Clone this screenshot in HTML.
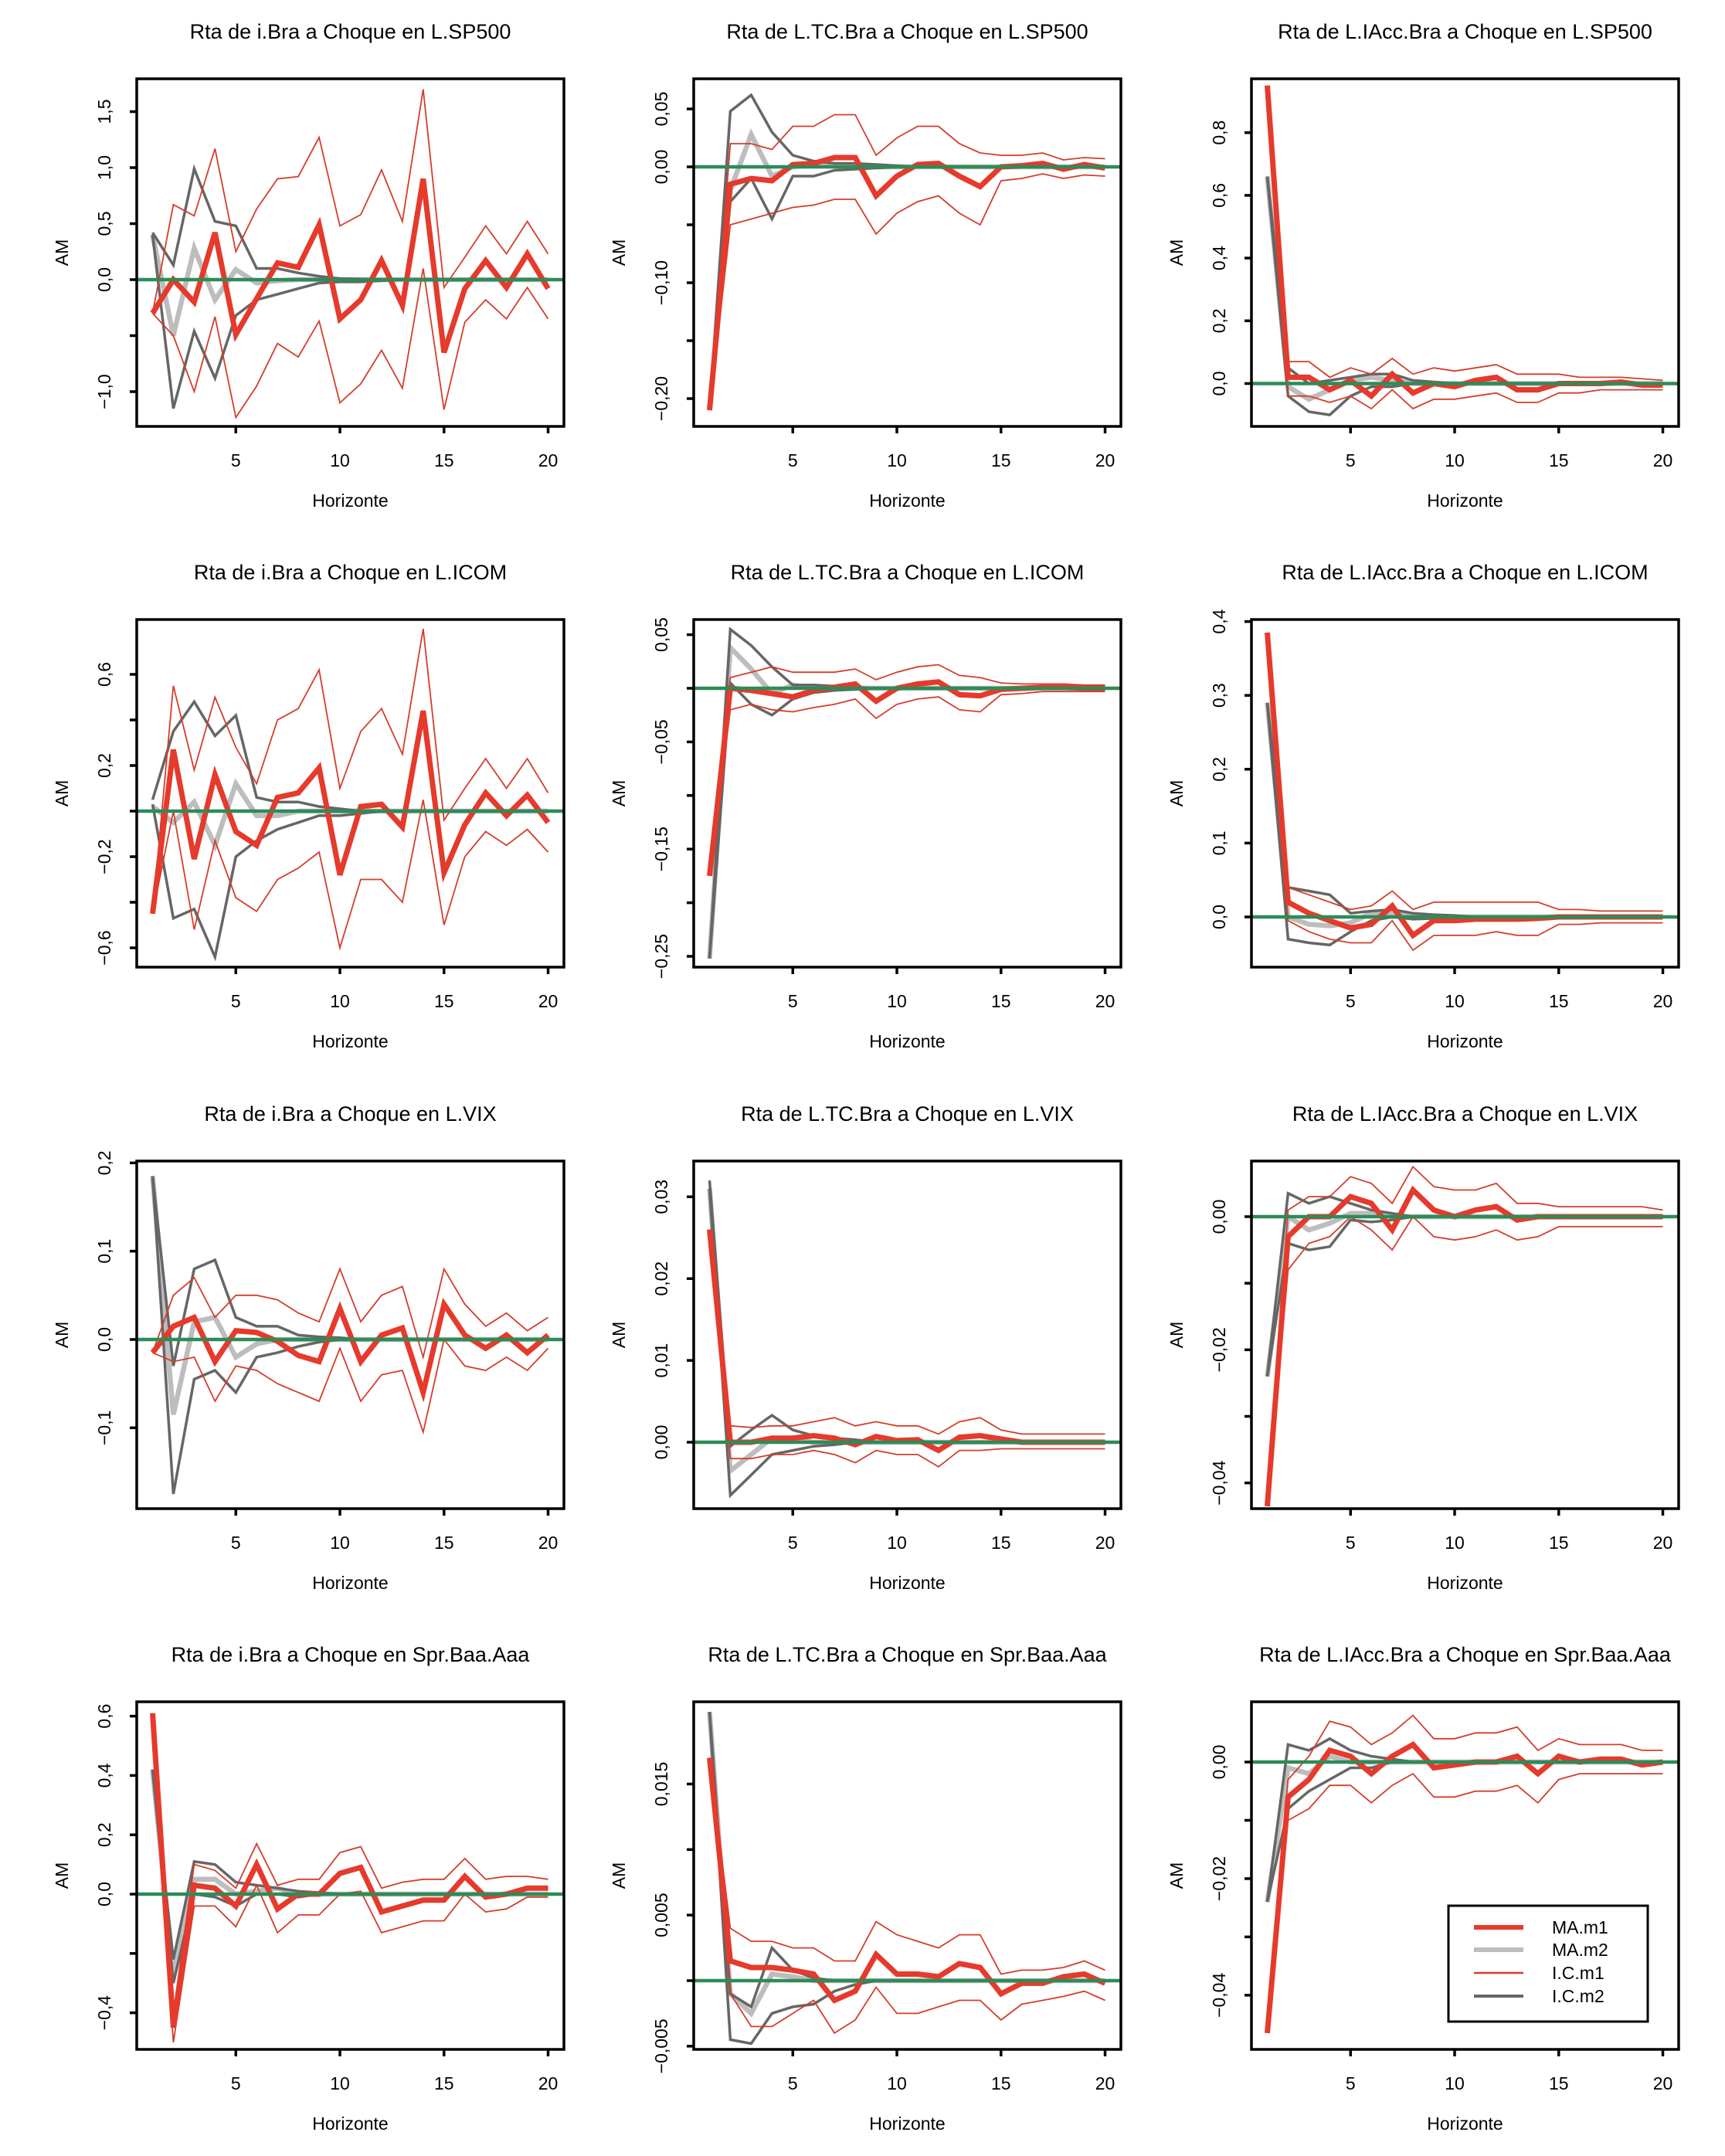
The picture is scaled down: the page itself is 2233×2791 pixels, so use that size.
<!DOCTYPE html>
<html><head><meta charset="utf-8">
<style>
html,body{margin:0;padding:0;background:#fff;}
svg{display:block;font-family:"Liberation Sans",Arial,sans-serif;}
</style></head>
<body>
<svg id="chart" width="2233" height="2791" viewBox="0 0 2233 2791" xmlns="http://www.w3.org/2000/svg">
<rect x="0" y="0" width="2233" height="2791" fill="#fff"/>
</svg>
<script>
const horizons = [1,2,3,4,5,6,7,8,9,10,11,12,13,14,15,16,17,18,19,20];
const xTicks = [5,10,15,20];
const titles = [
 "Rta de i.Bra a Choque en L.SP500","Rta de L.TC.Bra a Choque en L.SP500","Rta de L.IAcc.Bra a Choque en L.SP500",
 "Rta de i.Bra a Choque en L.ICOM","Rta de L.TC.Bra a Choque en L.ICOM","Rta de L.IAcc.Bra a Choque en L.ICOM",
 "Rta de i.Bra a Choque en L.VIX","Rta de L.TC.Bra a Choque en L.VIX","Rta de L.IAcc.Bra a Choque en L.VIX",
 "Rta de i.Bra a Choque en Spr.Baa.Aaa","Rta de L.TC.Bra a Choque en Spr.Baa.Aaa","Rta de L.IAcc.Bra a Choque en Spr.Baa.Aaa"];
const yTickVals = [
 [-1.0,-0.5,0,0.5,1.0,1.5],[-0.20,-0.15,-0.10,-0.05,0,0.05],[0,0.2,0.4,0.6,0.8],
 [-0.6,-0.4,-0.2,0,0.2,0.4,0.6],[-0.25,-0.20,-0.15,-0.10,-0.05,0,0.05],[0,0.1,0.2,0.3,0.4],
 [-0.1,0,0.1,0.2],[0,0.01,0.02,0.03],[-0.04,-0.03,-0.02,-0.01,0],
 [-0.4,-0.2,0,0.2,0.4,0.6],[-0.005,0,0.005,0.010,0.015],[-0.04,-0.03,-0.02,-0.01,0]];
const yTickLabels = [
 ["−1,0","","0,0","0,5","1,0","1,5"],["−0,20","","−0,10","","0,00","0,05"],["0,0","0,2","0,4","0,6","0,8"],
 ["−0,6","","−0,2","","0,2","","0,6"],["−0,25","","−0,15","","−0,05","","0,05"],["0,0","0,1","0,2","0,3","0,4"],
 ["−0,1","0,0","0,1","0,2"],["0,00","0,01","0,02","0,03"],["−0,04","","−0,02","","0,00"],
 ["−0,4","","0,0","0,2","0,4","0,6"],["−0,005","","0,005","","0,015"],["−0,04","","−0,02","","0,00"]];
// axis calibration (value 0 pixel row, pixels per unit) - scale parameters, not data
const yZero = [362,216,496.5, 1050,891,1187, 1734,1867,1575, 2452,2564,2281];
const yK = [145,1500,406, 295,1388,956, 1143,10590,8617, 384,16970,7546];

const m1 = [
 [-0.3,0,-0.2,0.42,-0.49,-0.17,0.15,0.11,0.49,-0.35,-0.18,0.17,-0.23,0.9,-0.65,-0.08,0.17,-0.07,0.23,-0.08],
 [-0.21,-0.015,-0.01,-0.012,0.002,0.003,0.008,0.008,-0.025,-0.008,0.002,0.003,-0.008,-0.017,0,0.001,0.003,-0.002,0.002,-0.001],
 [0.95,0.02,0.02,-0.02,0.01,-0.04,0.03,-0.03,0,-0.01,0.01,0.02,-0.02,-0.02,0,0,0,0.005,-0.005,-0.005],
 [-0.45,0.27,-0.21,0.16,-0.09,-0.15,0.06,0.08,0.19,-0.28,0.02,0.03,-0.07,0.44,-0.27,-0.06,0.08,-0.02,0.07,-0.05],
 [-0.175,0,-0.002,-0.005,-0.008,-0.002,0.001,0.004,-0.012,0,0.004,0.006,-0.006,-0.007,-0.001,0,0.001,0.001,0,0],
 [0.385,0.02,0.005,-0.005,-0.015,-0.01,0.015,-0.025,-0.005,-0.005,-0.003,-0.003,-0.003,-0.002,0,0,0,0,0,0],
 [-0.015,0.015,0.025,-0.025,0.01,0.008,-0.002,-0.018,-0.025,0.035,-0.025,0.005,0.013,-0.06,0.04,0.005,-0.01,0.005,-0.015,0.005],
 [0.026,0,0,0.0005,0.0005,0.0008,0.0005,-0.0003,0.0007,0.0002,0.0003,-0.001,0.0006,0.0008,0.0004,0,0,0,0,0],
 [-0.0435,-0.003,0,0,0.003,0.002,-0.002,0.004,0.001,0,0.001,0.0015,-0.0005,0,0,0,0,0,0,0],
 [0.61,-0.45,0.03,0.02,-0.04,0.1,-0.05,0,0,0.07,0.09,-0.06,-0.04,-0.02,-0.02,0.06,-0.01,0,0.02,0.02],
 [0.017,0.0015,0.001,0.001,0.0008,0.0005,-0.0015,-0.0008,0.002,0.0005,0.0005,0.0003,0.0013,0.001,-0.001,-0.0002,-0.0002,0.0003,0.0005,-0.0002],
 [-0.0465,-0.006,-0.003,0.002,0.001,-0.002,0.001,0.003,-0.001,-0.0005,0,0,0.001,-0.002,0.001,0,0.0005,0.0005,-0.0005,0]];
const hi1 = [
 [-0.3,0.67,0.57,1.17,0.25,0.63,0.9,0.92,1.27,0.48,0.58,0.98,0.52,1.7,-0.07,0.2,0.48,0.23,0.52,0.23],
 [-0.21,0.02,0.02,0.015,0.035,0.035,0.045,0.045,0.01,0.025,0.035,0.035,0.02,0.012,0.01,0.01,0.012,0.006,0.008,0.007],
 [0.95,0.07,0.07,0.02,0.05,0.03,0.08,0.03,0.05,0.04,0.05,0.06,0.03,0.03,0.03,0.02,0.02,0.02,0.015,0.01],
 [-0.45,0.55,0.18,0.5,0.28,0.12,0.4,0.45,0.62,0.1,0.35,0.45,0.25,0.8,-0.04,0.1,0.23,0.1,0.23,0.08],
 [-0.175,0.01,0.015,0.02,0.015,0.015,0.015,0.018,0.008,0.015,0.02,0.022,0.012,0.01,0.005,0.004,0.004,0.004,0.003,0.003],
 [0.385,0.04,0.03,0.02,0.01,0.015,0.035,0.01,0.02,0.02,0.02,0.02,0.02,0.02,0.01,0.01,0.008,0.008,0.008,0.008],
 [-0.015,0.05,0.07,0.025,0.05,0.05,0.045,0.03,0.02,0.08,0.02,0.05,0.06,-0.02,0.08,0.04,0.015,0.03,0.01,0.025],
 [0.026,0.002,0.0018,0.002,0.002,0.0025,0.003,0.002,0.0025,0.002,0.002,0.001,0.0025,0.003,0.0015,0.001,0.001,0.001,0.001,0.001],
 [-0.0435,0.001,0.003,0.003,0.006,0.005,0.002,0.0075,0.0045,0.004,0.004,0.005,0.002,0.002,0.0015,0.0015,0.0015,0.0015,0.0015,0.001],
 [0.61,-0.4,0.1,0.08,0.02,0.17,0.03,0.05,0.05,0.14,0.16,0.02,0.04,0.05,0.05,0.12,0.05,0.06,0.06,0.05],
 [0.017,0.004,0.003,0.003,0.0025,0.0025,0.0015,0.0015,0.0045,0.0035,0.003,0.0025,0.0035,0.0035,0.0005,0.0008,0.0008,0.001,0.0015,0.0008],
 [-0.0465,-0.003,0.001,0.007,0.006,0.003,0.005,0.008,0.004,0.004,0.005,0.005,0.006,0.002,0.004,0.003,0.003,0.003,0.002,0.002]];
const lo1 = [
 [-0.3,-0.5,-1.0,-0.33,-1.23,-0.95,-0.57,-0.69,-0.37,-1.1,-0.93,-0.63,-0.97,0.1,-1.16,-0.38,-0.18,-0.35,-0.07,-0.35],
 [-0.21,-0.05,-0.045,-0.04,-0.035,-0.033,-0.028,-0.028,-0.058,-0.04,-0.03,-0.025,-0.04,-0.05,-0.012,-0.01,-0.006,-0.01,-0.007,-0.008],
 [0.95,-0.04,-0.04,-0.06,-0.04,-0.08,-0.02,-0.08,-0.05,-0.05,-0.04,-0.03,-0.06,-0.06,-0.03,-0.03,-0.02,-0.02,-0.02,-0.02],
 [-0.45,0,-0.52,-0.13,-0.38,-0.44,-0.3,-0.25,-0.18,-0.6,-0.3,-0.3,-0.4,0.05,-0.5,-0.2,-0.09,-0.15,-0.08,-0.18],
 [-0.175,-0.02,-0.015,-0.02,-0.022,-0.018,-0.015,-0.01,-0.028,-0.015,-0.01,-0.008,-0.02,-0.022,-0.006,-0.005,-0.003,-0.003,-0.003,-0.003],
 [0.385,-0.005,-0.02,-0.03,-0.035,-0.035,-0.005,-0.045,-0.025,-0.025,-0.025,-0.02,-0.025,-0.025,-0.01,-0.01,-0.008,-0.008,-0.008,-0.008],
 [-0.015,-0.025,-0.02,-0.07,-0.03,-0.035,-0.05,-0.06,-0.07,-0.01,-0.07,-0.04,-0.035,-0.105,0,-0.03,-0.035,-0.02,-0.035,-0.01],
 [0.026,-0.002,-0.002,-0.0015,-0.0015,-0.001,-0.0015,-0.0025,-0.001,-0.0015,-0.0015,-0.003,-0.001,-0.001,-0.0008,-0.0008,-0.0008,-0.0008,-0.0008,-0.0008],
 [-0.0435,-0.008,-0.004,-0.003,0,-0.002,-0.005,0,-0.003,-0.0035,-0.003,-0.002,-0.0035,-0.003,-0.0015,-0.0015,-0.0015,-0.0015,-0.0015,-0.0015],
 [0.61,-0.5,-0.04,-0.04,-0.11,0.03,-0.13,-0.07,-0.07,0,0.01,-0.13,-0.11,-0.09,-0.09,0,-0.06,-0.05,-0.01,-0.01],
 [0.017,-0.001,-0.0035,-0.0035,-0.0025,-0.0015,-0.004,-0.003,-0.0005,-0.0025,-0.0025,-0.002,-0.0015,-0.0015,-0.003,-0.0018,-0.0015,-0.0012,-0.0008,-0.0015],
 [-0.0465,-0.01,-0.008,-0.004,-0.004,-0.007,-0.004,-0.002,-0.006,-0.006,-0.005,-0.005,-0.004,-0.007,-0.003,-0.002,-0.002,-0.002,-0.002,-0.002]];
const m2 = [
 [0.4,-0.5,0.28,-0.18,0.09,-0.03,-0.01,0,0,0,0,0,0,0,0,0,0,0,0,0],
 [-0.21,-0.02,0.028,-0.008,0,0.002,0.001,0,0,0,0,0,0,0,0,0,0,0,0,0],
 [0.66,-0.01,-0.05,-0.02,0.01,0.02,0.01,0,0,0,0,0,0,0,0,0,0,0,0,0],
 [0.02,-0.05,0.04,-0.15,0.12,-0.02,-0.02,0,0,0,0,0,0,0,0,0,0,0,0,0],
 [-0.252,0.038,0.018,-0.005,0.003,0,0,0,0,0,0,0,0,0,0,0,0,0,0,0],
 [0.29,0,-0.01,-0.012,-0.008,0.005,0.005,0,0,0,0,0,0,0,0,0,0,0,0,0],
 [0.185,-0.085,0.02,0.025,-0.02,-0.005,0,0,0,0,0,0,0,0,0,0,0,0,0,0],
 [0.031,-0.0035,-0.0015,0.0005,0.0003,0,0,0,0,0,0,0,0,0,0,0,0,0,0,0],
 [-0.024,0,-0.002,-0.001,0.0005,0.0005,0,0,0,0,0,0,0,0,0,0,0,0,0,0],
 [0.42,-0.28,0.05,0.05,0,0.01,0.02,0,0,0,0,0,0,0,0,0,0,0,0,0],
 [0.0205,-0.001,-0.0025,0.0005,0.0003,0,0,0,0,0,0,0,0,0,0,0,0,0,0,0],
 [-0.024,-0.001,-0.002,0.001,0,0,0,0,0,0,0,0,0,0,0,0,0,0,0,0]];
const hi2 = [
 [0.42,0.13,0.99,0.52,0.48,0.1,0.1,0.06,0.03,0.01,0.005,0,0,0,0,0,0,0,0,0],
 [-0.21,0.048,0.062,0.03,0.01,0.005,0.003,0.003,0.002,0.001,0,0,0,0,0,0,0,0,0,0],
 [0.66,0.05,0,0.01,0.02,0.03,0.03,0.01,0.005,0,0,0,0,0,0,0,0,0,0,0],
 [0.05,0.35,0.48,0.33,0.42,0.06,0.04,0.04,0.02,0.01,0,0,0,0,0,0,0,0,0,0],
 [-0.252,0.055,0.04,0.02,0.003,0.003,0.002,0.001,0,0,0,0,0,0,0,0,0,0,0,0],
 [0.29,0.04,0.035,0.03,0.005,0.008,0.01,0.005,0.003,0.002,0,0,0,0,0,0,0,0,0,0],
 [0.185,-0.03,0.08,0.09,0.025,0.015,0.015,0.005,0.003,0.002,0,0,0,0,0,0,0,0,0,0],
 [0.032,-0.0005,0.0015,0.0033,0.0015,0.0008,0.0005,0.0003,0,0,0,0,0,0,0,0,0,0,0,0],
 [-0.024,0.0035,0.002,0.003,0.002,0.001,0.0005,0,0,0,0,0,0,0,0,0,0,0,0,0],
 [0.42,-0.22,0.11,0.1,0.04,0.03,0.02,0.01,0.005,0,0,0,0,0,0,0,0,0,0,0],
 [0.0205,-0.001,-0.002,0.0025,0.0008,0.0002,0,0,0,0,0,0,0,0,0,0,0,0,0,0],
 [-0.024,0.003,0.002,0.004,0.002,0.001,0.0005,0,0,0,0,0,0,0,0,0,0,0,0,0]];
const lo2 = [
 [0.4,-1.15,-0.46,-0.88,-0.32,-0.18,-0.13,-0.08,-0.03,-0.02,-0.02,-0.01,0,0,0,0,0,0,0,0],
 [-0.21,-0.03,-0.01,-0.045,-0.008,-0.008,-0.003,-0.002,-0.001,0,0,0,0,0,0,0,0,0,0,0],
 [0.66,-0.04,-0.09,-0.1,-0.04,-0.01,-0.01,0,0,0,0,0,0,0,0,0,0,0,0,0],
 [0.03,-0.47,-0.43,-0.64,-0.2,-0.13,-0.08,-0.05,-0.02,-0.02,-0.01,0,0,0,0,0,0,0,0,0],
 [-0.252,0.005,-0.015,-0.025,-0.01,-0.004,-0.002,-0.001,0,0,0,0,0,0,0,0,0,0,0,0],
 [0.29,-0.03,-0.035,-0.038,-0.02,-0.005,0,-0.003,-0.002,0,0,0,0,0,0,0,0,0,0,0],
 [0.185,-0.175,-0.045,-0.035,-0.06,-0.02,-0.015,-0.008,-0.003,0,0,0,0,0,0,0,0,0,0,0],
 [0.031,-0.0065,-0.004,-0.0015,-0.001,-0.0005,-0.0003,0,0,0,0,0,0,0,0,0,0,0,0,0],
 [-0.024,-0.004,-0.005,-0.0045,-0.0005,-0.0008,-0.0005,0,0,0,0,0,0,0,0,0,0,0,0,0],
 [0.42,-0.3,0,-0.01,-0.04,0,0,-0.01,0,0,0,0,0,0,0,0,0,0,0,0],
 [0.0205,-0.0045,-0.0048,-0.0025,-0.002,-0.0018,-0.0008,-0.0003,0,0,0,0,0,0,0,0,0,0,0,0],
 [-0.024,-0.008,-0.005,-0.003,-0.001,-0.001,0,0,0,0,0,0,0,0,0,0,0,0,0,0]];
const legendLabels = ["MA.m1","MA.m2","I.C.m1","I.C.m2"];

const NS = "http://www.w3.org/2000/svg";
const svg = document.getElementById("chart");
const colLeft = [177, 898, 1620];
const rowTop = [102, 802, 1503, 2203];
const BW = 553, BH = 450;
function mk(tag, attrs, parent){
  const e = document.createElementNS(NS, tag);
  for (const k in attrs) e.setAttribute(k, attrs[k]);
  parent.appendChild(e);
  return e;
}
function fmtPath(xs, ys){ return xs.map((x,i)=>(i?"L":"M")+x.toFixed(1)+","+ys[i].toFixed(1)).join(""); }

for (let p = 0; p < 12; p++){
  const L = colLeft[p%3], T = rowTop[Math.floor(p/3)];
  const xS = h => L + (h - 0.24) / 20.52 * BW;
  const yS = v => yZero[p] - v * yK[p];
  const g = mk("g", {}, svg);
  
  
  const clipId = "clip" + p;
  const cp = mk("clipPath", {id: clipId}, g);
  mk("rect", {x: L, y: T, width: BW, height: BH}, cp);

  const t = mk("text", {x: L + BW/2, y: T - 52, "text-anchor": "middle", "font-size": 27}, g);
  
  
  t.textContent = titles[p];

  const series = mk("g", {"clip-path": "url(#" + clipId + ")", fill: "none", "stroke-linejoin": "miter"}, g);
  
  
  const xs = horizons.map(xS);
  const defs = [
    [m2[p], "#bdbdbd", 6.5, "ma-m2-line"],
    [hi2[p], "#666666", 3.5, "ic-m2-upper"],
    [lo2[p], "#666666", 3.5, "ic-m2-lower"],
    [hi1[p], "#d43d2c", 1.8, "ic-m1-upper"],
    [lo1[p], "#d43d2c", 1.8, "ic-m1-lower"],
    [m1[p], "#e53a2c", 7, "ma-m1-line"]
  ];
  defs.forEach(d => {
    const pa = mk("path", {d: fmtPath(xs, d[0].map(yS)), stroke: d[1], "stroke-width": d[2]}, series);
    
    
  });
  const zl = mk("line", {x1: L, x2: L + BW, y1: yS(0), y2: yS(0), stroke: "#2e8b57", "stroke-width": 4.5}, g);
  
  

  const box = mk("rect", {x: L, y: T, width: BW, height: BH, fill: "none", stroke: "#000", "stroke-width": 3.5}, g);
  
  

  xTicks.forEach(v => {
    const x = xS(v);
    const tk = mk("line", {x1: x, x2: x, y1: T + BH, y2: T + BH + 9, stroke: "#000", "stroke-width": 3.5}, g);
    
    
    const lb = mk("text", {x: x, y: T + BH + 52, "text-anchor": "middle", "font-size": 23}, g);
    
    
    lb.textContent = String(v);
  });
  yTickVals[p].forEach((v, i) => {
    const y = yS(v);
    const tk = mk("line", {x1: L - 9, x2: L, y1: y, y2: y, stroke: "#000", "stroke-width": 3.5}, g);
    
    
    const s = yTickLabels[p][i];
    if (s){
      const lb = mk("text", {x: 0, y: 0, "text-anchor": "middle", "font-size": 23, transform: "translate(" + (L - 34) + "," + y + ") rotate(-90)"}, g);
      
      
      lb.textContent = s;
    }
  });
  const xl = mk("text", {x: L + BW/2, y: T + BH + 104, "text-anchor": "middle", "font-size": 23}, g);
  
  
  xl.textContent = "Horizonte";
  const yl = mk("text", {x: 0, y: 0, "text-anchor": "middle", "font-size": 23, transform: "translate(" + (L - 89) + "," + (T + BH/2) + ") rotate(-90)"}, g);
  
  
  yl.textContent = "AM";
}

// legend
const lg = mk("g", {}, svg);


const lbox = mk("rect", {x: 1875, y: 2467, width: 258, height: 150, fill: "#fff", stroke: "#000", "stroke-width": 3}, lg);


const legCols = ["#e53a2c", "#bdbdbd", "#d43d2c", "#666666"];
const legW = [6, 6, 2.5, 4];
const legY = [2495, 2524, 2554, 2584];
legendLabels.forEach((s, i) => {
  const ln = mk("line", {x1: 1908, x2: 1972, y1: legY[i], y2: legY[i], stroke: legCols[i], "stroke-width": legW[i]}, lg);
  
  
  const tx = mk("text", {x: 2009, y: legY[i] + 8, "font-size": 23}, lg);
  
  
  tx.textContent = s;
});
</script>
</body></html>
